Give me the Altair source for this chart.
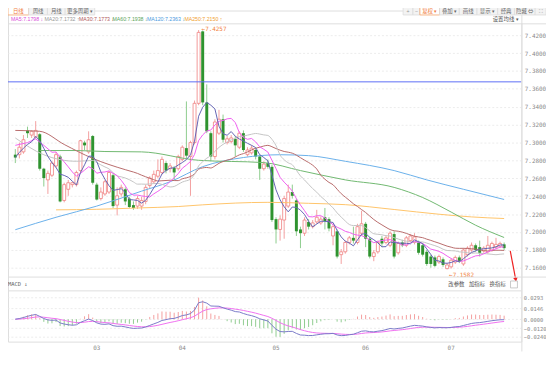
import altair as alt
import pandas as pd
import numpy as np

# ---------------- data ----------------
opens = [
    7.2864, 7.2864, 7.2895, 7.3135, 7.3083, 7.3062, 7.3093, 7.2707, 7.2582, 7.2634,
    7.2738, 7.2843, 7.2352, 7.2477, 7.2529, 7.2529, 7.2686, 7.2999, 7.2895, 7.3072,
    7.2529, 7.2373, 7.2425, 7.2446, 7.2634, 7.2300, 7.2425, 7.2477, 7.2373, 7.2300,
    7.2289, 7.2289, 7.2341, 7.2519, 7.2561, 7.2623, 7.2665, 7.2770, 7.2707, 7.2717,
    7.2707, 7.2811, 7.2937, 7.2843, 7.2999, 7.3438, 7.4242, 7.3448, 7.3104, 7.2843,
    7.3104, 7.3260, 7.2999, 7.3010, 7.3041, 7.2947, 7.3104, 7.2864, 7.2884, 7.2916,
    7.2843, 7.2707, 7.2770, 7.2728, 7.2143, 7.2028, 7.2133, 7.2289, 7.2446, 7.2352,
    7.2028, 7.1986, 7.2112, 7.2059, 7.2112, 7.2101, 7.2164, 7.2143, 7.1955, 7.2007,
    7.1746, 7.1778, 7.1882, 7.1934, 7.1882, 7.1986, 7.2091, 7.1924, 7.1725, 7.1778,
    7.1924, 7.1882, 7.1851, 7.1976, 7.1767, 7.1882, 7.1851, 7.1903, 7.1882, 7.1882,
    7.1851, 7.1778, 7.1725, 7.1715, 7.1663, 7.1694, 7.1590, 7.1610, 7.1663, 7.1715,
    7.1642, 7.1746, 7.1798, 7.1851, 7.1830, 7.1788, 7.1778, 7.1798, 7.1830, 7.1840,
    7.1861]
highs = [
    7.2926, 7.2999, 7.3083, 7.3177, 7.3135, 7.3239, 7.3104, 7.2717, 7.2686, 7.2790,
    7.2895, 7.2864, 7.2550, 7.2582, 7.2561, 7.2686, 7.3031, 7.3020, 7.3125, 7.3083,
    7.2550, 7.2498, 7.2582, 7.2686, 7.2655, 7.2498, 7.2529, 7.2498, 7.2394, 7.2341,
    7.2404, 7.2394, 7.2529, 7.2623, 7.2686, 7.2811, 7.2843, 7.2790, 7.2770, 7.2738,
    7.2864, 7.2968, 7.3459, 7.3020, 7.3469, 7.4257, 7.4252, 7.3650, 7.3125, 7.3260,
    7.3365, 7.3312, 7.3072, 7.3083, 7.3072, 7.3125, 7.3135, 7.2947, 7.2968, 7.2937,
    7.2864, 7.2790, 7.2811, 7.2749, 7.2164, 7.2185, 7.2404, 7.2529, 7.2529, 7.2373,
    7.2059, 7.2164, 7.2143, 7.2133, 7.2247, 7.2174, 7.2268, 7.2164, 7.2091, 7.2028,
    7.1809, 7.1903, 7.1955, 7.2059, 7.2091, 7.2237, 7.2112, 7.1945, 7.1798, 7.1903,
    7.1955, 7.1965, 7.2007, 7.2007, 7.1892, 7.1913, 7.1955, 7.1976, 7.1986, 7.1903,
    7.1871, 7.1798, 7.1746, 7.1736, 7.1746, 7.1715, 7.1652, 7.1704, 7.1736, 7.1736,
    7.1819, 7.1840, 7.1882, 7.1871, 7.1903, 7.1840, 7.1955, 7.1892, 7.1934, 7.1892,
    7.1882]
lows = [
    7.2770, 7.2822, 7.2874, 7.3051, 7.3051, 7.3041, 7.2686, 7.2508, 7.2425, 7.2613,
    7.2717, 7.2331, 7.2331, 7.2404, 7.2498, 7.2508, 7.2665, 7.2916, 7.2874, 7.2529,
    7.2352, 7.2352, 7.2404, 7.2425, 7.2268, 7.2185, 7.2394, 7.2300, 7.2268, 7.2247,
    7.2258, 7.2247, 7.2310, 7.2488, 7.2540, 7.2602, 7.2644, 7.2655, 7.2665, 7.2582,
    7.2686, 7.2790, 7.2822, 7.2404, 7.2978, 7.3417, 7.3417, 7.3104, 7.2790, 7.2811,
    7.3083, 7.2999, 7.2978, 7.2989, 7.2843, 7.2926, 7.2895, 7.2843, 7.2864, 7.2811,
    7.2582, 7.2686, 7.2707, 7.2112, 7.1871, 7.1903, 7.1924, 7.2268, 7.2373, 7.1955,
    7.1819, 7.1955, 7.2028, 7.2039, 7.2091, 7.2080, 7.2028, 7.2007, 7.1851, 7.1704,
    7.1642, 7.1757, 7.1861, 7.1871, 7.1861, 7.1955, 7.1830, 7.1704, 7.1673, 7.1757,
    7.1830, 7.1861, 7.1830, 7.1704, 7.1746, 7.1830, 7.1830, 7.1882, 7.1861, 7.1746,
    7.1725, 7.1621, 7.1600, 7.1605, 7.1642, 7.1610, 7.1582, 7.1590, 7.1642, 7.1652,
    7.1621, 7.1725, 7.1778, 7.1778, 7.1725, 7.1767, 7.1757, 7.1778, 7.1809, 7.1819,
    7.1798]
closes = [
    7.2832, 7.2947, 7.3031, 7.3104, 7.3125, 7.3135, 7.2707, 7.2602, 7.2655, 7.2770,
    7.2864, 7.2341, 7.2529, 7.2550, 7.2550, 7.2665, 7.3020, 7.2968, 7.3031, 7.2550,
    7.2362, 7.2446, 7.2561, 7.2665, 7.2289, 7.2404, 7.2498, 7.2341, 7.2279, 7.2268,
    7.2373, 7.2352, 7.2498, 7.2602, 7.2644, 7.2686, 7.2811, 7.2686, 7.2738, 7.2665,
    7.2843, 7.2947, 7.2853, 7.2999, 7.3438, 7.4231, 7.3448, 7.3125, 7.2843, 7.3229,
    7.3260, 7.3031, 7.3041, 7.3051, 7.2968, 7.3104, 7.2916, 7.2916, 7.2937, 7.2843,
    7.2707, 7.2759, 7.2728, 7.2133, 7.2028, 7.2143, 7.2373, 7.2446, 7.2404, 7.2007,
    7.1986, 7.2133, 7.2059, 7.2101, 7.2164, 7.2143, 7.2122, 7.2039, 7.2059, 7.1725,
    7.1778, 7.1882, 7.1934, 7.1903, 7.2059, 7.2091, 7.1924, 7.1725, 7.1767, 7.1882,
    7.1871, 7.1934, 7.1986, 7.1725, 7.1871, 7.1851, 7.1934, 7.1955, 7.1945, 7.1767,
    7.1746, 7.1642, 7.1642, 7.1621, 7.1725, 7.1631, 7.1631, 7.1684, 7.1715, 7.1673,
    7.1798, 7.1819, 7.1851, 7.1798, 7.1767, 7.1819, 7.1851, 7.1871, 7.1861, 7.1871,
    7.1819]

month_labels = ["03", "04", "05", "06", "07"]
month_start_idx = [19, 40, 63, 85, 106]

price_ticks = [7.42, 7.40, 7.38, 7.36, 7.34, 7.32, 7.30, 7.28, 7.26, 7.24, 7.22, 7.20, 7.18, 7.16]

# heads of the moving averages before a full window is available
ma10_head_i = [0, 3, 5, 7]
ma10_head_v = [7.2968, 7.2999, 7.3041, 7.2968]
ma20_head_i = [0, 7, 15]
ma20_head_v = [7.3051, 7.2863, 7.2790]
ma30_head_i = [0, 6, 12, 19, 27]
ma30_head_v = [7.3135, 7.3125, 7.2978, 7.2822, 7.2696]
# long moving averages
ma60_i = [6, 15, 22, 31, 45, 61, 70, 81, 93, 100, 107, 113, 120]
ma60_v = [7.2910, 7.2910, 7.2899, 7.2895, 7.2801, 7.2775, 7.2686, 7.2582, 7.2498, 7.2385, 7.2222, 7.2075, 7.1938]
ma120_i = [0, 10, 20, 31, 38, 46, 56, 65, 72, 81, 93, 101, 110, 120]
ma120_v = [7.2025, 7.2164, 7.2289, 7.2456, 7.2561, 7.2730, 7.2832, 7.2863, 7.2853, 7.2790, 7.2686, 7.2582, 7.2477, 7.2363]
ma250_i = [10, 20, 30, 40, 46, 62, 72, 81, 93, 104, 112, 120]
ma250_v = [7.2247, 7.2253, 7.2268, 7.2284, 7.2303, 7.2331, 7.2320, 7.2305, 7.2251, 7.2198, 7.2168, 7.2150]

hline_value = 7.3678
arrow_i = [121.5, 122.85]
arrow_p = [7.1788, 7.1467]

legend_names = ["MA5", "MA20", "MA30", "MA60", "MA120", "MA250"]
legend_values = [7.1798, 7.1732, 7.1773, 7.1938, 7.2363, 7.2150]
legend_arrows = ["↓", "↑", "↓", "↓", "↓", "↑"]
legend_colors = ["#d84fd8", "#9a9a9a", "#b05a5a", "#5aa55a", "#4a9ae0", "#f0a030"]

# ---------------- derived tables ----------------
N = len(closes)
df = pd.DataFrame({"i": np.arange(N), "open": opens, "high": highs, "low": lows, "close": closes})
df["lo"] = df[["open", "close"]].min(axis=1)
df["hi"] = df[["open", "close"]].max(axis=1)
up = df[df["close"] >= df["open"]]
dn = df[df["close"] < df["open"]]
s = df["close"]

ma5 = pd.DataFrame({"i": df["i"], "v": s.rolling(5, min_periods=1).mean()})


def joined(head_i, head_v, win):
    comp = pd.DataFrame({"i": df["i"], "v": s.rolling(win).mean()}).dropna()
    head = pd.DataFrame({"i": head_i, "v": head_v})
    return pd.concat([head, comp]).sort_values("i").reset_index(drop=True)


ma10 = joined(ma10_head_i, ma10_head_v, 10)
ma20 = joined(ma20_head_i, ma20_head_v, 20)
ma30 = joined(ma30_head_i, ma30_head_v, 30)
ma60 = pd.DataFrame({"i": ma60_i, "v": ma60_v})
ma120 = pd.DataFrame({"i": ma120_i, "v": ma120_v})
ma250 = pd.DataFrame({"i": ma250_i, "v": ma250_v})

# MACD(12, 26, 9) derived from the closes
ema12 = s.ewm(span=12, adjust=False).mean()
ema26 = s.ewm(span=26, adjust=False).mean()
dif = ema12 - ema26
dea = dif.ewm(span=9, adjust=False).mean()
bar = 2 * (dif - dea)
mdf = pd.DataFrame({"i": df["i"], "dif": dif, "dea": dea, "bar": bar, "zero": 0.0})
mpos = mdf[mdf["bar"] >= 0]
mneg = mdf[mdf["bar"] < 0]

m_max = float(max(dif.max(), dea.max(), bar.max()))
m_min = float(min(dif.min(), dea.min(), bar.min()))
m_span = m_max - m_min
macd_ticks = [m_max, m_max / 2, 0.0, m_min / 2, m_min]

# ---------------- scales / axes ----------------
W, H = 521, 336
MONO = "DejaVu Sans Mono"
SANS = "Liberation Sans"
CJK = "Noto Sans CJK SC"

xscale = alt.Scale(domain=[-0.584, 123.02], nice=False, zero=False)
label_expr = " : ".join(f"datum.value == {m} ? '{l}'" for m, l in zip(month_start_idx, month_labels)) + " : ''"
xaxis = alt.Axis(values=month_start_idx, labelExpr=label_expr, grid=False, ticks=False, domain=False,
                 labelAlign="left", labelFont=MONO, labelFontSize=6, labelColor="#888", labelPadding=3, title=None)

pscale = alt.Scale(domain=[7.1501, 7.4332], range=[270, 13], nice=False, zero=False)
paxis = alt.Axis(orient="right", values=price_ticks, format=".4f", grid=True, gridColor="#ececec",
                 gridDash=[2, 2], ticks=False, domain=False, labelFont=MONO, labelFontSize=6,
                 labelColor="#888", labelPadding=3, title=None)

mscale = alt.Scale(domain=[m_min - 0.12 * m_span, m_max + 0.06 * m_span], range=[336, 289], nice=False, zero=False)
maxis = alt.Axis(orient="right", values=macd_ticks, format=".4f", grid=True,
                 gridColor="#ececec", gridDash=[2, 2], ticks=False, domain=False, labelFont=MONO,
                 labelFontSize=5.5, labelColor="#888", labelPadding=2, title=None)


def X(f="i"):
    return alt.X(f"{f}:Q", scale=xscale, axis=xaxis, title=None)


def PY(f):
    return alt.Y(f"{f}:Q", scale=pscale, axis=paxis, title=None)


def MY(f):
    return alt.Y(f"{f}:Q", scale=mscale, axis=maxis, title=None)


# ---------------- price panel ----------------
wick_up = alt.Chart(up).mark_rule(color="#f3a0a0", strokeWidth=1).encode(x=X(), y=PY("low"), y2="high")
wick_dn = alt.Chart(dn).mark_rule(color="#8ccc8c", strokeWidth=1).encode(x=X(), y=PY("low"), y2="high")
body_up = alt.Chart(up).mark_bar(size=3, fill="white", stroke="#f08080", strokeWidth=0.8).encode(
    x=X(), y=PY("lo"), y2="hi")
body_dn = alt.Chart(dn).mark_bar(size=3, color="#2f932f").encode(x=X(), y=PY("lo"), y2="hi")


def line(d, color, interp="linear"):
    return alt.Chart(d).mark_line(color=color, strokeWidth=1, interpolate=interp).encode(x=X(), y=PY("v"))


l250 = line(ma250, "#ffc46a", "monotone")
l120 = line(ma120, "#6ab0ea", "monotone")
l60 = line(ma60, "#70b870", "monotone")
l30 = line(ma30, "#b86b6b", "monotone")
l20 = line(ma20, "#c4c4c4", "monotone")
l10 = line(ma10, "#f060f0")
l5 = line(ma5, "#6464b4")

hl = alt.Chart(pd.DataFrame({"v": [hline_value]})).mark_rule(color="#5b6ef5", strokeWidth=1).encode(y=PY("v"))

imax = int(df["high"].idxmax())
imin = int(df["low"].idxmin())
hi_df = pd.DataFrame({"i": [imax], "p": [df["high"].max()], "t": [f"←{df['high'].max():.4f}"]})
lo_df = pd.DataFrame({"i": [imin], "p": [df["low"].min()], "t": [f"←{df['low'].min():.4f}"]})
hi_txt = alt.Chart(hi_df).mark_text(align="left", baseline="middle", dx=3, dy=-1, fontSize=6, font=MONO,
                                    color="#f2803a").encode(x=X(), y=PY("p"), text="t:N")
lo_txt = alt.Chart(lo_df).mark_text(align="left", baseline="middle", dx=2, dy=6, fontSize=6, font=MONO,
                                    color="#f2803a").encode(x=X(), y=PY("p"), text="t:N")

arr_df = pd.DataFrame({"i": arrow_i, "v": arrow_p})
arrow = alt.Chart(arr_df).mark_line(color="#ee2222", strokeWidth=1.2).encode(x=X(), y=PY("v"))
arrowhead = alt.Chart(arr_df.tail(1)).mark_point(shape="triangle-down", filled=True, size=22, color="#ee2222",
                                                 angle=350, opacity=1).encode(x=X(), y=PY("v"))

price = alt.layer(wick_up, wick_dn, body_up, body_dn, l250, l120, l60, l30, l20, l10, l5, hl,
                  hi_txt, lo_txt, arrow, arrowhead)

# ---------------- MACD panel ----------------
hist_up = alt.Chart(mpos).mark_rule(color="#f4a0a0", strokeWidth=1).encode(x=X(), y=MY("zero"), y2="bar")
hist_dn = alt.Chart(mneg).mark_rule(color="#90cc90", strokeWidth=1).encode(x=X(), y=MY("zero"), y2="bar")
dea_line = alt.Chart(mdf).mark_line(color="#f070f0", strokeWidth=1).encode(x=X(), y=MY("dea"))
dif_line = alt.Chart(mdf).mark_line(color="#7a7ac8", strokeWidth=1).encode(x=X(), y=MY("dif"))
macd = alt.layer(hist_up, hist_dn, dea_line, dif_line)


# ---------------- chrome ----------------
def txt(sv, x, y, color="#666", size=5.5, font=CJK, align="center"):
    return alt.Chart(pd.DataFrame({"t": [sv]})).mark_text(
        align=align, baseline="middle", fontSize=size, font=font, color=color).encode(
        x=alt.value(x), y=alt.value(y), text="t:N")


def rect(x1, x2, y1, y2, fill, stroke):
    return alt.Chart(pd.DataFrame({"a": [0]})).mark_rect(fill=fill, stroke=stroke, strokeWidth=0.8).encode(
        x=alt.value(x1), x2=alt.value(x2), y=alt.value(y1), y2=alt.value(y2))


def hrule(y, x1, x2, color="#dddddd"):
    return alt.Chart(pd.DataFrame({"a": [0]})).mark_rule(color=color, strokeWidth=1).encode(
        x=alt.value(x1), x2=alt.value(x2), y=alt.value(y))


def vrule(x, y1, y2, color="#dddddd"):
    return alt.Chart(pd.DataFrame({"a": [0]})).mark_rule(color=color, strokeWidth=1).encode(
        x=alt.value(x), y=alt.value(y1), y2=alt.value(y2))


TY = 1.0
chrome = [
    hrule(13.5, 0, 546), hrule(270.5, 0, 546), hrule(284.5, 0, 521), vrule(521.5, 13, 346),
    rect(0, 21, -6, 4.5, "white", "#f3a46b"), txt("日线", 10.5, TY, "#f07a3a"),
    rect(21, 40, -6, 4.5, "#f3f3f3", "#dddddd"), txt("周线", 30.5, TY),
    rect(40, 58, -6, 4.5, "#f3f3f3", "#dddddd"), txt("月线", 49, TY),
    rect(58, 88, -6, 4.5, "#f3f3f3", "#dddddd"), txt("更多周期 ▾", 73, TY),
    rect(401, 411, -6, 4.5, "#f3f3f3", "#dddddd"), txt("+", 406, TY, "#999"),
    rect(411, 418, -6, 4.5, "#f3f3f3", "#dddddd"), txt("−", 414.5, TY, "#999"),
    rect(418, 438, -6, 4.5, "white", "#f3a46b"), txt("复权 ▾", 428, TY, "#f07a3a"),
    rect(438, 458, -6, 4.5, "#f3f3f3", "#dddddd"), txt("叠加 ▾", 448, TY),
    rect(458, 476, -6, 4.5, "#f3f3f3", "#dddddd"), txt("画线", 467, TY),
    rect(476, 497, -6, 4.5, "#f3f3f3", "#dddddd"), txt("显示 ▾", 486.5, TY),
    rect(497, 514, -6, 4.5, "#f3f3f3", "#dddddd"), txt("经典", 505.5, TY),
    rect(514, 535, -6, 4.5, "#f3f3f3", "#dddddd"), txt("隐藏 ⇔", 524.5, TY),
    rect(535, 546, -6, 4.5, "#f3f3f3", "#dddddd"), txt("⛶", 540.5, TY, "#999"),
    txt("设置均线 ▾", 505, 8.8, "#555"),
    txt("MACD ↓", 0, 278, "#666", 5.5, MONO, "left"),
    txt("改参数", 455, 278, "#555"), txt("加指标", 476, 278, "#555"), txt("换指标", 497, 278, "#555"),
    rect(510, 517, 274.5, 281.5, "white", "#bbbbbb"),
]
lx = [3, 37, 72, 106, 141, 179]
for k in range(len(legend_names)):
    chrome.append(txt(f"{legend_names[k]}:{legend_values[k]:.4f} {legend_arrows[k]}", lx[k], 8.8,
                      legend_colors[k], 5.3, SANS, "left"))

chrome_layer = alt.layer(*chrome)

chart = alt.layer(price, macd, chrome_layer).resolve_scale(y="independent").properties(
    width=W, height=H, autosize=alt.AutoSizeParams(type="none"),
    padding={"left": 0, "top": 0, "right": 25, "bottom": 10},
).configure_view(strokeWidth=0).configure(background="white")

chart.save("out.html", embed_options={"renderer": "svg", "actions": False})
